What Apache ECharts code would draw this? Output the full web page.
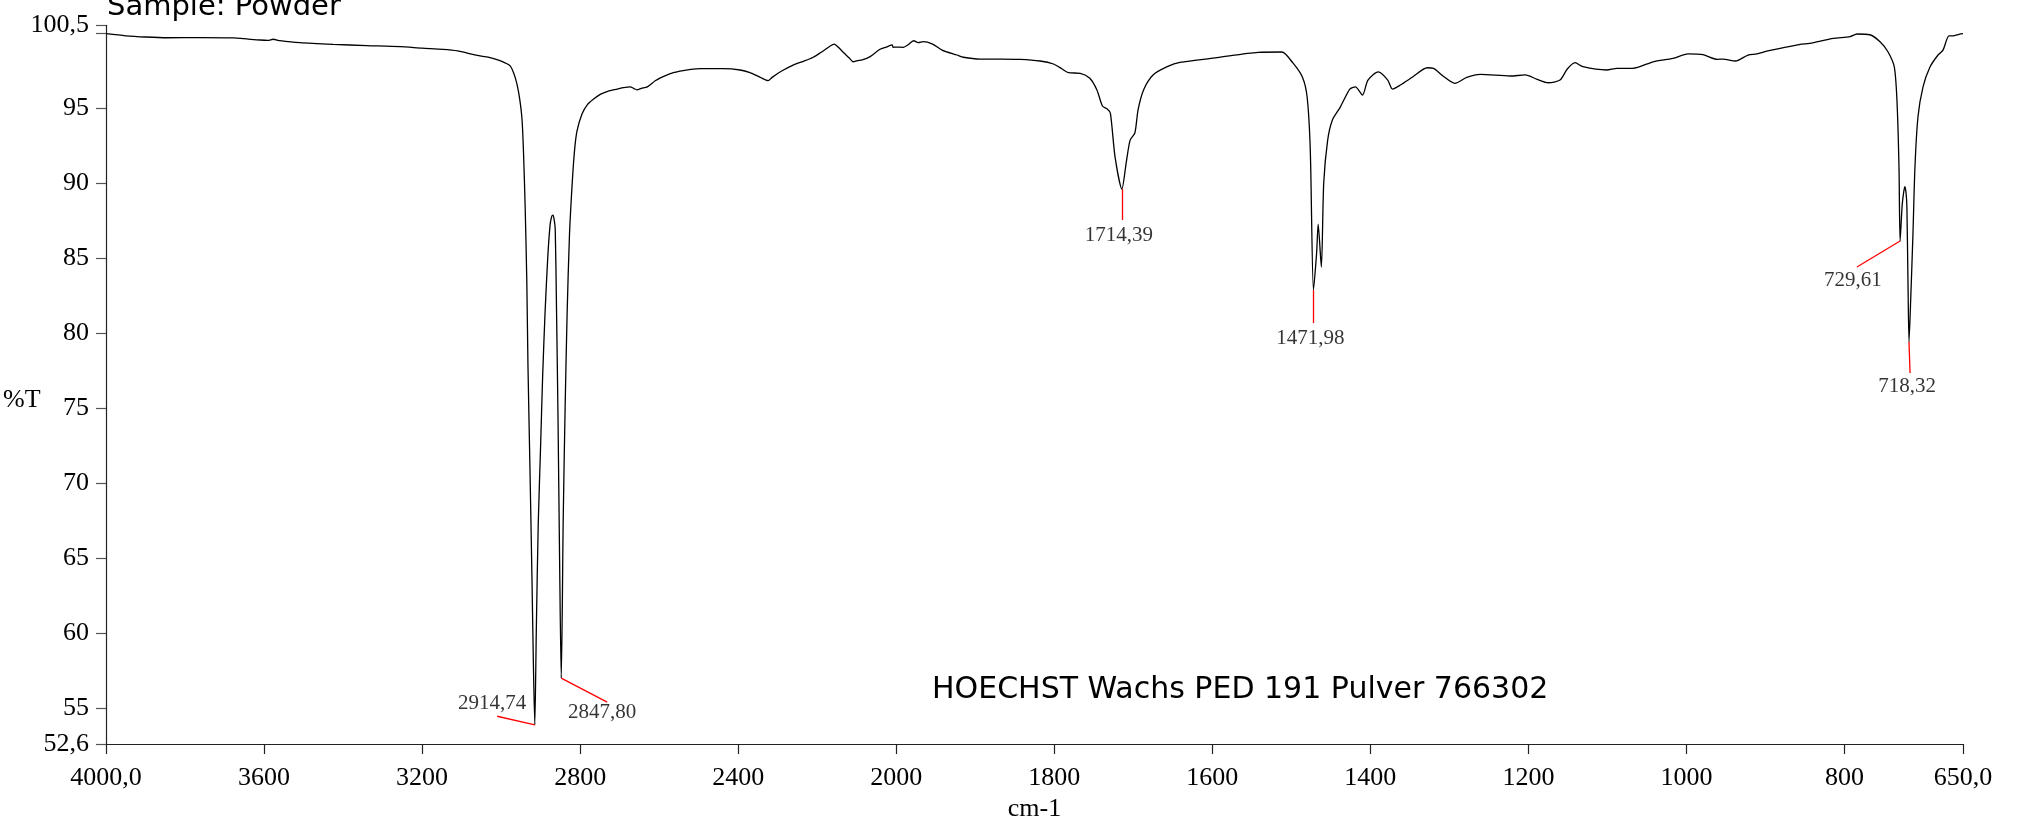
<!DOCTYPE html>
<html>
<head>
<meta charset="utf-8">
<script src="https://cdn.jsdelivr.net/npm/echarts@6/dist/echarts.min.js"></script>
<style>
html,body{margin:0;padding:0;background:#fff;}
#chart{width:2017px;height:817px;}
</style>
</head>
<body>
<div id="chart"></div>
<script>
// ---- data ----
const wavenumbers = [
4000,3950,3900,3846,3760,3678,3640,3610,3590,3577,3560,3509,3425,3340,3256,3200,3147,3110,3086,3050,3028,3003,2990,2977,2968,2960,2953,2947,2943,2939,2935,2932,2927,2922,2918,2914.74,2911,2906,2900,2895,2889,2882,2876,2872,2869,2866,2863,2860,2856,2852,2847.8,2845,2843,2838,2833,2827,2820,2814,2808,2795,2782,2765,2749,2730,2706,2690,2673,2665,2656,2645,2630,2610,2597,2575,2555,2547,2520,2496,2438,2395,2370,2344,2324,2314,2290,2261,2235,2210,2190,2175,2157,2145,2134,2120,2109,2098,2086,2066,2041,2025,2010,2008,2000,1991,1985,1978,1972,1966,1954,1942,1923,1915,1894,1868,1843,1818,1801,1790,1782,1767,1755,1746,1739,1733,1729,1723,1714.39,1709,1704,1698,1694,1687,1675,1657,1641,1594,1542,1512,1498,1486,1480,1476,1471.98,1468,1466,1462,1459,1454,1448,1438,1426,1419,1410,1403,1390,1378,1372,1362,1346,1328,1320,1308,1293,1278,1261,1223,1204,1189,1175,1160,1151,1141,1131,1101,1088,1068,1042,1017,998,979,961,954,938,922,911,897,856,844,814,793,784,768,755,745,737,733.6,731,729.61,727,725,723.5,722,721,719.6,718.32,716,713.3,710.8,707,700.6,691.8,681.6,675.3,667.7,662.6,655,650
];
const transmittance = [
99.94,99.8,99.72,99.67,99.68,99.66,99.58,99.52,99.5,99.57,99.48,99.34,99.23,99.15,99.08,98.98,98.9,98.8,98.65,98.45,98.35,98.15,98.0,97.8,97.3,96.6,95.6,94.2,91.8,88.25,83.5,77.8,71.0,63.8,57.5,53.87,60.0,67.3,72.5,77.0,81.2,85.0,87.2,87.75,87.85,87.6,86.9,82.0,74.4,65.0,56.99,62.0,67.3,75.0,81.2,86.5,90.0,92.2,93.45,94.6,95.2,95.6,95.9,96.1,96.25,96.35,96.4,96.3,96.2,96.3,96.4,96.8,97.0,97.25,97.4,97.45,97.56,97.61,97.61,97.52,97.34,97.03,96.81,97.03,97.45,97.85,98.1,98.37,98.7,98.97,99.25,99.0,98.7,98.35,98.07,98.15,98.19,98.41,98.9,99.05,99.19,99.03,99.05,99.03,99.2,99.47,99.34,99.41,99.25,98.85,98.52,98.37,98.25,98.25,98.23,98.12,97.92,97.59,97.34,97.3,96.97,96.19,95.12,94.92,94.65,91.7,89.59,91.32,92.85,93.32,94.85,96.19,97.19,97.74,98.03,98.34,98.7,98.72,97.99,97.05,95.72,92.19,82.85,85.32,87.25,84.39,89.99,92.85,94.19,95.05,96.25,96.39,95.85,96.85,97.39,96.85,96.25,96.52,97.07,97.67,97.63,97.12,96.63,97.03,97.23,97.12,97.19,96.9,96.67,96.85,97.57,98.01,97.74,97.52,97.63,97.63,98.07,98.3,98.59,98.54,98.23,98.25,98.12,98.52,98.59,98.79,99.23,99.3,99.63,99.74,99.92,99.87,99.41,98.74,97.74,95.52,91.05,86.12,88.5,89.4,89.75,89.3,88.4,83.3,79.39,82.5,86.65,91.05,94.39,96.39,97.72,98.52,98.85,99.79,99.79,99.9,99.94
];

// peak annotations (peak point and leader-line end, in data units)
const peakWn = [2914.74, 2847.80, 1714.39, 1471.98, 729.61, 718.32];
const peakT = [53.87, 56.99, 89.59, 82.85, 86.12, 79.39];
const leaderWn = [3010, 2731.6, 1714.39, 1471.98, 784.2, 717.0];
const leaderT = [54.45, 55.39, 87.52, 80.65, 84.39, 77.33];
const peakLabels = ['2914,74', '2847,80', '1714,39', '1471,98', '729,61', '718,32'];

// axis ticks
const xTickWn = [4000, 3600, 3200, 2800, 2400, 2000, 1800, 1600, 1400, 1200, 1000, 800, 650];
const xTickLabels = ['4000,0', '3600', '3200', '2800', '2400', '2000', '1800', '1600', '1400', '1200', '1000', '800', '650,0'];
const yTickValues = [52.6, 55, 60, 65, 70, 75, 80, 85, 90, 95, 100.5];
const yTickLabels = ['52,6', '55', '60', '65', '70', '75', '80', '85', '90', '95', '100,5'];
const yTickMarks = [52.6, 55, 60, 65, 70, 75, 80, 85, 90, 95, 100, 100.5];

const sampleText = 'Sample: Powder';
const titleText = 'HOECHST Wachs PED 191 Pulver 766302';
const yName = '%T';
const xName = 'cm-1';

// ---- instrument x scale: 4000-2000 at half the scale of 2000-650 ----
function toU(w) { return w >= 2000 ? (4000 - w) / 2 : 1000 + (2000 - w); }

const serif = '"Liberation Serif","Times New Roman",serif';
const comic = '"Comic Sans MS","DejaVu Sans",sans-serif';

const labelPlacement = [
  {position: 'top', distance: 2, offset: [-5, 0]},
  {position: 'bottom', distance: 0, offset: [-5, 0]},
  {position: 'bottom', distance: 5, offset: [-3, 0]},
  {position: 'bottom', distance: 5, offset: [-3, 0]},
  {position: 'bottom', distance: 3, offset: [-4, 0]},
  {position: 'bottom', distance: 3, offset: [-3, 0]}
];

const chart = echarts.init(document.getElementById('chart'), null, {renderer: 'canvas'});

const xCustom = xTickWn.map(toU);
function xLabel(v) {
  let best = 0, d = Infinity;
  xCustom.forEach((u, i) => { const dd = Math.abs(u - v); if (dd < d) { d = dd; best = i; } });
  return xTickLabels[best];
}
function yLabel(v) {
  let best = 0, d = Infinity;
  yTickValues.forEach((u, i) => { const dd = Math.abs(u - v); if (dd < d) { d = dd; best = i; } });
  return yTickLabels[best];
}

const axisColor = '#222';

chart.setOption({
  animation: false,
  backgroundColor: '#fff',
  grid: {left: 106, right: 54, top: 25.3, bottom: 73, containLabel: false, outerBoundsMode: 'none'},
  xAxis: {
    type: 'value', min: 0, max: toU(650),
    name: xName, nameLocation: 'middle', nameGap: 50,
    nameTextStyle: {fontFamily: serif, fontSize: 26, color: '#000'},
    axisLine: {show: true, onZero: false, lineStyle: {color: axisColor, width: 1.2}},
    axisTick: {show: true, inside: false, length: 10, customValues: xCustom, lineStyle: {color: axisColor, width: 1.2}},
    axisLabel: {show: true, customValues: xCustom, formatter: xLabel, margin: 21,
      fontFamily: serif, fontSize: 26, color: '#000'},
    splitLine: {show: false}
  },
  yAxis: {
    type: 'value', min: 52.6, max: 100.5,
    axisLine: {show: true, onZero: false, lineStyle: {color: axisColor, width: 1.2}},
    axisTick: {show: true, inside: false, length: 10, customValues: yTickMarks, lineStyle: {color: '#555', width: 1.2}},
    axisLabel: {show: true, customValues: yTickValues, formatter: yLabel, margin: 17,
      fontFamily: serif, fontSize: 26, color: '#000', padding: [0, 0, 16, 0]},
    splitLine: {show: false}
  },
  graphic: [
    {type: 'text', x: 107, y: 7, silent: true,
      style: {text: sampleText, font: '29px ' + comic, fill: '#000', align: 'left', verticalAlign: 'middle'}},
    {type: 'text', x: 932, y: 690, silent: true,
      style: {text: titleText, font: '30px ' + comic, fill: '#000', align: 'left', verticalAlign: 'middle'}},
    {type: 'text', x: 3, y: 400, silent: true,
      style: {text: yName, font: '26px ' + serif, fill: '#000', align: 'left', verticalAlign: 'middle'}}
  ],
  series: [
    {
      type: 'line',
      data: wavenumbers.map((w, i) => [toU(w), transmittance[i]]),
      showSymbol: false, symbol: 'none',
      smooth: 0.25,
      lineStyle: {color: '#000', width: 1.3},
      silent: true,
      markLine: {
        silent: true, symbol: 'none', animation: false,
        label: {show: false},
        lineStyle: {color: '#ff0000', width: 1.3, type: 'solid'},
        emphasis: {disabled: true},
        data: peakWn.map((w, i) => [
          {coord: [toU(w), peakT[i]]},
          {coord: [toU(leaderWn[i]), leaderT[i]]}
        ])
      }
    },
    {
      type: 'scatter',
      symbolSize: 0,
      silent: true,
      data: leaderWn.map((w, i) => ({
        value: [toU(w), leaderT[i]],
        name: peakLabels[i],
        label: Object.assign({show: true, formatter: peakLabels[i], fontFamily: serif, fontSize: 21, color: '#000'}, labelPlacement[i])
      }))
    }
  ]
});
</script>
</body>
</html>
